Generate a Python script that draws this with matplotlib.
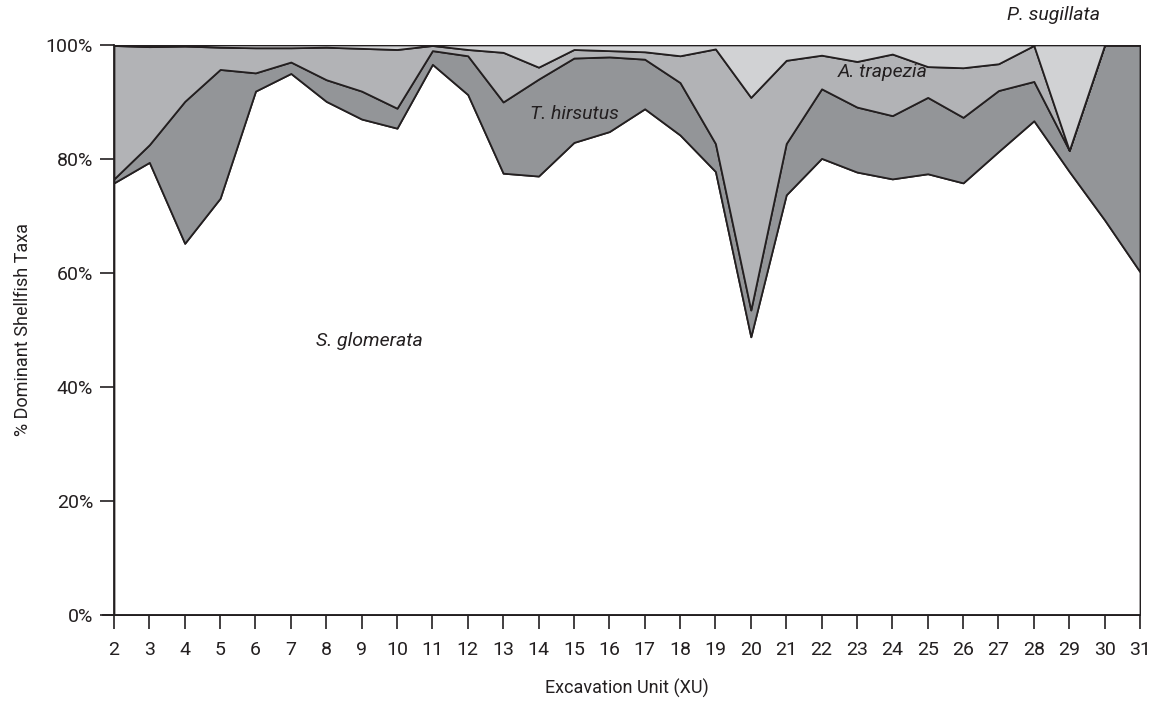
import numpy as np
import matplotlib.pyplot as plt
from matplotlib.ticker import PercentFormatter

plt.rcParams['font.family'] = ['Roboto', 'DejaVu Sans']

# excavation units and % of each dominant shellfish taxon
xu = list(range(2, 32))
glomerata = [75.8, 79.4, 65.2, 73.1, 91.9, 95.0, 90.1, 87.0, 85.4, 96.6,
             91.3, 77.5, 77.0, 82.9, 84.8, 88.8, 84.2, 77.8, 48.8, 73.7,
             80.1, 77.7, 76.5, 77.4, 75.8, 81.3, 86.7, 77.8, 69.3, 60.2]
hirsutus = [0.7, 3.1, 24.9, 22.6, 3.2, 2.0, 3.8, 4.9, 3.5, 2.4,
            6.8, 12.5, 17.0, 14.8, 13.1, 8.7, 9.2, 4.9, 4.7, 9.0,
            12.2, 11.4, 11.1, 13.4, 11.5, 10.7, 6.9, 3.7, 30.7, 39.8]
trapezia = [23.4, 17.2, 9.7, 3.9, 4.4, 2.5, 5.7, 7.5, 10.3, 0.9,
            1.1, 8.7, 2.1, 1.5, 1.1, 1.3, 4.7, 16.6, 37.3, 14.6,
            5.9, 8.0, 10.8, 5.4, 8.7, 4.7, 6.3, 0.0, 0.0, 0.0]
sugillata = [0.1, 0.3, 0.2, 0.4, 0.5, 0.5, 0.4, 0.6, 0.8, 0.1,
             0.8, 1.3, 3.9, 0.8, 1.0, 1.2, 1.9, 0.7, 9.2, 2.7,
             1.8, 2.9, 1.6, 3.8, 4.0, 3.3, 0.1, 18.5, 0.0, 0.0]

layers = [glomerata, hirsutus, trapezia, sugillata]
colours = ['white', '#939598', '#b2b3b6', '#d1d2d4']

fig = plt.figure(figsize=(11.57, 7.02), dpi=100)
ax = fig.add_axes([0.0985, 0.124, 0.8868, 0.812])

x = np.array(xu)
lower = np.zeros(len(xu))
for vals, col in zip(layers, colours):
    upper = lower + np.array(vals)
    ax.fill_between(x, lower, upper, facecolor=col, edgecolor='#231f20',
                    linewidth=1.3, zorder=2)
    lower = upper

ax.set_xlim(2, 31)
ax.set_ylim(0, 100)
ax.set_xticks(xu)
ax.set_yticks([0, 20, 40, 60, 80, 100])
ax.yaxis.set_major_formatter(PercentFormatter(decimals=0))
for s in ['top', 'right']:
    ax.spines[s].set_visible(False)
for s in ['left', 'bottom']:
    ax.spines[s].set_color('#231f20')
    ax.spines[s].set_linewidth(1.3)
ax.spines['bottom'].set_bounds(1.7, 31)
ax.tick_params(direction='out', length=10, width=1.2, colors='#231f20',
               labelsize=14)
ax.tick_params(axis='x', pad=9)
ax.tick_params(axis='y', pad=5)

ax.set_xlabel('Excavation Unit (XU)', fontsize=13, color='#231f20', labelpad=14)
ax.set_ylabel('% Dominant Shellfish Taxa', fontsize=13, color='#231f20', labelpad=10)

lab = dict(fontsize=14, style='italic', color='#231f20', ha='left',
           va='center', zorder=3)
ax.text(7.7, 48.1, 'S. glomerata', **lab)
ax.text(13.75, 87.9, 'T. hirsutus', **lab)
ax.text(22.45, 95.3, 'A. trapezia', **lab)
ax.text(27.25, 105.3, 'P. sugillata', clip_on=False, **lab)

fig.savefig('out.png', dpi=100)
